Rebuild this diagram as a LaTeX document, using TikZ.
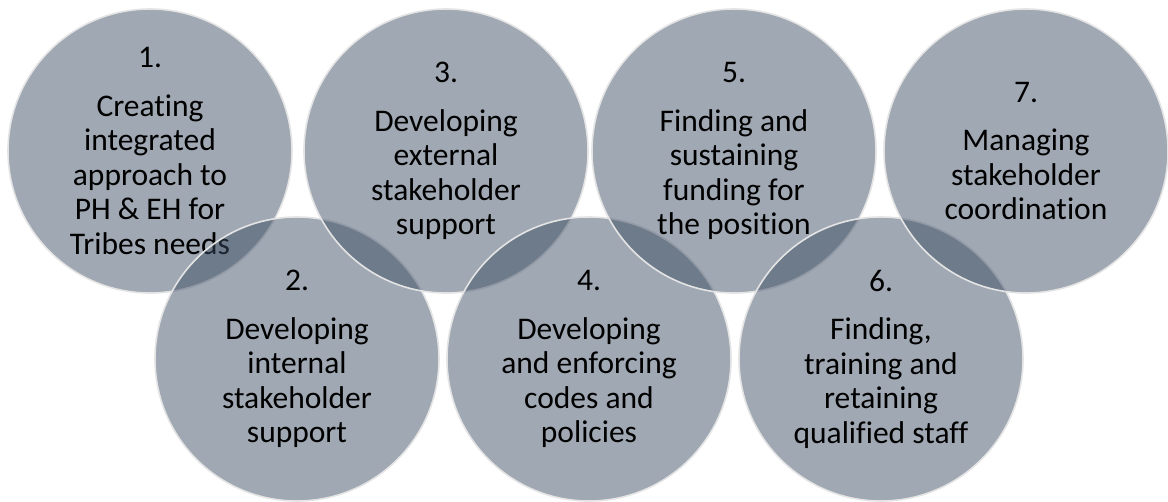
\documentclass[tikz,border=0pt]{standalone}
\usepackage{fontspec}
\setmainfont{Carlito}[Ligatures=NoCommon]
\usepackage{tikz}
\usetikzlibrary{positioning}
\definecolor{ringfill}{RGB}{59,76,98}
\definecolor{ringline}{RGB}{228,228,228}
\tikzset {
  % overlapping step circles
  ring/.style = {circle, minimum size=284pt, inner sep=0pt,
    fill=ringfill, fill opacity=0.485, text opacity=1,
    draw=ringline, line width=1.6pt, align=center,
    font=\fontsize{31.5}{34.5}\selectfont},
}

\begin{document}
\begin{tikzpicture}[x=1pt, y=-1pt]
  \useasboundingbox (0,0) rectangle (1168,501);

  \node[ring] (c1) at (150,151) {1.\\[14pt]Creating\\integrated\\approach to\\PH \& EH for\\Tribes needs};
  \node[ring] (c2) at (297,359) {2.\\[14pt]Developing\\internal\\stakeholder\\support};
  \node[ring] (c3) at (446,151) {3.\\[14pt]Developing\\external\\stakeholder\\support};
  \node[ring] (c4) at (589,359) {4.\\[14pt]Developing\\and enforcing\\codes and\\policies};
  \node[ring] (c5) at (734,151) {5.\\[14pt]Finding and\\sustaining\\funding for\\the position};
  \node[ring] (c6) at (881,359) {6.\\[14pt]Finding,\\training and\\retaining\\qualified staff};
  \node[ring] (c7) at (1026,151) {7.\\[14pt]Managing\\stakeholder\\coordination};
\end{tikzpicture}
\end{document}
